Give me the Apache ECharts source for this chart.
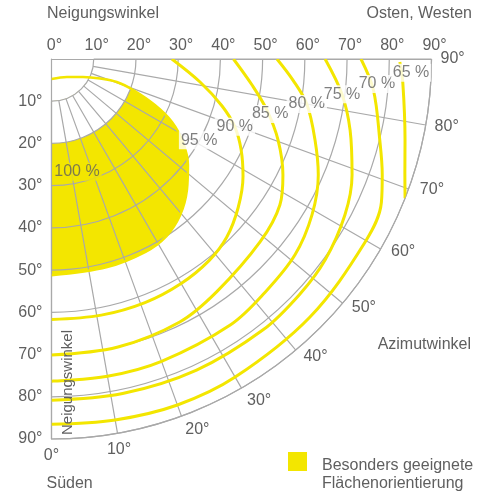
<!DOCTYPE html>
<html>
<head>
<meta charset="utf-8">
<script src="https://cdn.jsdelivr.net/npm/echarts@6/dist/echarts.min.js"></script>
<style>
html, body { margin: 0; padding: 0; background: #fff; }
#main { width: 478px; height: 493px; }
</style>
</head>
<body>
<div id="main"></div>
<script>
// values: [Neigungswinkel (tilt), Azimutwinkel]
var blob95 = [[4.74, 0], [5.6, 40.7], [8.6, 60.3], [12.4, 68.1], [16.4, 70.6], [20.7, 69.2], [26.8, 66],
    [32.2, 62.4], [36.8, 57.7], [40.9, 52.2], [44.6, 46], [47.9, 39.5], [50, 33], [50.8, 26],
    [51, 15], [51.2, 0]];
var contour90 = [[28.5, 90], [35.6, 81.2], [41.9, 74.6], [46.3, 69.7], [49.8, 64.4], [53.2, 58.5],
    [56.5, 51.5], [59.2, 44.5], [60.6, 38], [61.4, 30], [61.8, 21], [61.8, 11], [61.7, 0]];
var contour85 = [[43.1, 90], [47.9, 82.6], [52.4, 76.7], [57, 70.3], [61.3, 63.4], [64.2, 57.4],
    [65.7, 48.8], [67.6, 35.4], [69.3, 26], [70, 13], [70.1, 0]];
var contour80 = [[53.4, 90], [57.4, 85], [61.4, 80], [65.3, 72.9], [68.9, 66.5], [71.9, 59.1],
    [74, 51.2], [74.9, 42.5], [75.9, 33.9], [76.2, 20], [76.3, 10], [76.3, 0]];
var contour75 = [[64.8, 90], [69.3, 83.1], [72.7, 76.6], [76.3, 68.9], [78.7, 62], [80.4, 53.7],
    [81, 46.5], [81.4, 38], [81.3, 25], [81, 12], [80.8, 0]];
var contour70 = [[73.3, 90], [76.6, 84.5], [80.1, 76.1], [83, 70.7], [85.2, 66.5], [86, 59.7],
    [86.5, 45], [87, 30], [87.2, 20], [86.8, 10], [86.5, 0]];
var contour65 = [[82.5, 89.5], [83.4, 86.1], [85.9, 77.1], [88, 72], [90, 68.5]];

var pctText = ['100 %', '95 %', '90 %', '85 %', '80 %', '75 %', '70 %', '65 %'];
var pctTilt = [27.4, 39.9, 46.3, 53.4, 61.4, 69.3, 77.3, 85.2];
var pctAzimuth = [12.7, 61.2, 69.7, 75.9, 80.0, 83.1, 85.6, 87.8];

var azimuthLabelsA = [0, 10, 80, 90];
var azimuthLabelsB = [40, 50, 60, 70];
var azimuthLabelsD = [20, 30];

var textColor = '#5f5f5f';
var lineGray = '#a9a9a9';
var yellow = '#f3e600';
var fontFam = 'Liberation Sans';
var center = [51.5, 59];

var myChart = echarts.init(document.getElementById('main'));

function contourSeries(name, data) {
    return {
        name: name,
        type: 'line',
        coordinateSystem: 'polar',
        polarIndex: 0,
        data: data,
        smooth: 0.35,
        symbol: 'none',
        clip: false,
        z: 4,
        lineStyle: { color: yellow, width: 3 }
    };
}

function azLabel(list, margin, pad) {
    return {
        margin: margin, padding: pad, fontSize: 16, color: textColor, fontFamily: fontFam,
        formatter: function (v) { return list.indexOf(v) >= 0 ? v + '°' : ''; }
    };
}

var labelData = pctText.map(function (t, i) {
    var item = { name: t, value: [pctTilt[i], pctAzimuth[i]] };
    if (i === 0) {
        item.label = { backgroundColor: yellow };
    }
    return item;
});

function txt(x, y, s, extra) {
    var st = { text: s, fontSize: 16, fontFamily: fontFam, fill: textColor, verticalAlign: 'middle' };
    for (var k in extra) st[k] = extra[k];
    return { type: 'text', x: x, y: y, z: 10, style: st };
}

var option = {
    animation: false,
    polar: [
        { center: center, radius: [0, 380] },
        { center: center, radius: [42.2, 380] },
        { center: center, radius: [0, 380] },
        { center: center, radius: [0, 380] }
    ],
    angleAxis: [
        {
            polarIndex: 0, type: 'value', min: 0, max: 90, interval: 10,
            startAngle: 270, endAngle: 360, clockwise: false, z: 3,
            axisLine: { show: true, lineStyle: { color: lineGray, width: 1.2 } },
            axisTick: { show: false },
            splitLine: { show: false },
            axisLabel: azLabel(azimuthLabelsA, 9, 0)
        },
        {
            polarIndex: 1, type: 'value', min: 0, max: 90, interval: 10,
            startAngle: 270, endAngle: 360, clockwise: false, z: 3,
            axisLine: { show: false },
            axisTick: { show: false },
            splitLine: { show: true, lineStyle: { color: lineGray, width: 1.2 } },
            axisLabel: azLabel(azimuthLabelsB, 12, [-11, 0, 0, 0])
        },
        { polarIndex: 2, type: 'value', min: 0, max: 90, interval: 10, startAngle: 0, endAngle: -90, show: false },
        {
            polarIndex: 3, type: 'value', min: 0, max: 90, interval: 10,
            startAngle: 270, endAngle: 360, clockwise: false, z: 3,
            axisLine: { show: false },
            axisTick: { show: false },
            splitLine: { show: false },
            axisLabel: azLabel(azimuthLabelsD, 11, [-5, 0, 0, 0])
        }
    ],
    radiusAxis: [
        {
            polarIndex: 0, type: 'value', min: 0, max: 90, interval: 10, z: 3,
            axisLine: { show: true, lineStyle: { color: lineGray, width: 1.2 } },
            axisTick: { show: false },
            splitLine: { show: true, lineStyle: { color: lineGray, width: 1.2 } },
            axisLabel: {
                margin: -9, align: 'right', verticalAlign: 'middle',
                fontSize: 16, color: textColor, fontFamily: fontFam,
                formatter: function (v) { return v === 0 ? '' : v + '°'; }
            }
        },
        { polarIndex: 1, type: 'value', min: 10, max: 90, interval: 10, show: false },
        {
            polarIndex: 2, type: 'value', min: 0, max: 90, interval: 10, z: 3,
            axisLine: { show: true, lineStyle: { color: lineGray, width: 1.2 } },
            axisTick: { show: false },
            splitLine: { show: false },
            axisLabel: {
                margin: 5, padding: [0, 0, 0, 6], fontSize: 16, color: textColor, fontFamily: fontFam,
                formatter: '{value}°'
            }
        },
        {
            // white disc inside 20° tilt, laid over the yellow fill
            polarIndex: 3, type: 'value', min: 0, max: 90, interval: 10, z: 2,
            axisLine: { show: false },
            axisTick: { show: false },
            axisLabel: { show: false },
            splitLine: { show: false },
            splitArea: {
                show: true,
                areaStyle: { color: ['#ffffff', '#ffffff', 'rgba(255,255,255,0)', 'rgba(255,255,255,0)',
                    'rgba(255,255,255,0)', 'rgba(255,255,255,0)', 'rgba(255,255,255,0)',
                    'rgba(255,255,255,0)', 'rgba(255,255,255,0)'] }
            }
        }
    ],
    series: [
        {
            name: 'Besonders geeignete Flächenorientierung',
            type: 'line',
            coordinateSystem: 'polar',
            polarIndex: 0,
            data: blob95,
            smooth: 0.35,
            symbol: 'none',
            clip: false,
            z: 1,
            lineStyle: { width: 0 },
            areaStyle: { color: yellow, opacity: 1 }
        },
        {
            name: '95 %',
            type: 'line',
            coordinateSystem: 'polar',
            polarIndex: 0,
            data: blob95,
            smooth: 0.35,
            symbol: 'none',
            clip: false,
            z: 4,
            lineStyle: { color: yellow, width: 2.5 }
        },
        contourSeries('90 %', contour90),
        contourSeries('85 %', contour85),
        contourSeries('80 %', contour80),
        contourSeries('75 %', contour75),
        contourSeries('70 %', contour70),
        contourSeries('65 %', contour65),
        {
            name: 'labels',
            type: 'scatter',
            coordinateSystem: 'polar',
            polarIndex: 0,
            symbolSize: 1,
            itemStyle: { color: 'rgba(0,0,0,0)' },
            z: 5,
            data: labelData,
            label: {
                show: true,
                position: 'inside',
                formatter: '{b}',
                fontSize: 16,
                fontFamily: fontFam,
                color: textColor,
                backgroundColor: '#ffffff',
                padding: [1, 2]
            }
        }
    ],
    graphic: [
        txt(47, 13.5, 'Neigungswinkel'),
        txt(472, 13.5, 'Osten, Westen', { align: 'right' }),
        txt(471, 344.5, 'Azimutwinkel', { align: 'right' }),
        txt(46.5, 484, 'Süden'),
        {
            type: 'text', x: 67.6, y: 382.5, rotation: Math.PI / 2, z: 10,
            style: { text: 'Neigungswinkel', fontSize: 15, fontFamily: fontFam, fill: textColor, align: 'center', verticalAlign: 'middle' }
        },
        { type: 'rect', z: 10, shape: { x: 288, y: 452, width: 19, height: 19 }, style: { fill: yellow } },
        txt(322, 465.5, 'Besonders geeignete'),
        txt(322, 484, 'Flächenorientierung')
    ]
};

myChart.setOption(option);
</script>
</body>
</html>
